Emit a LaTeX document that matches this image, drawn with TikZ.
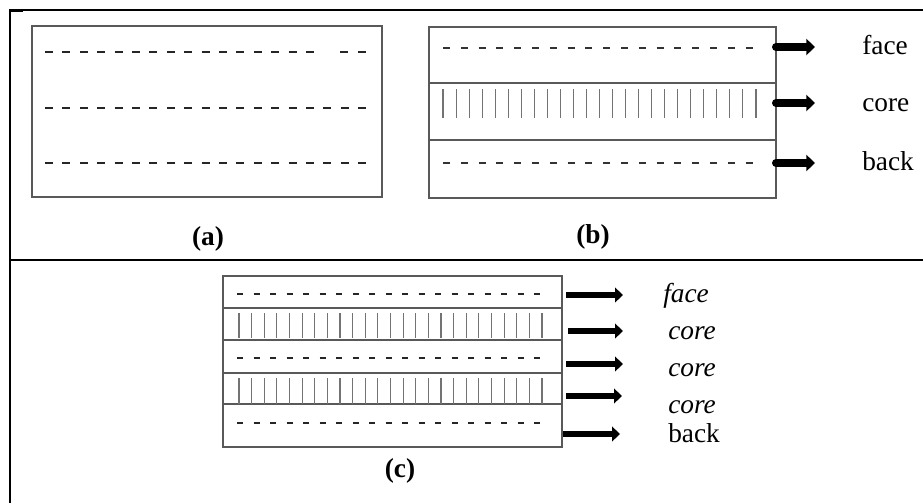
\documentclass[tikz,border=0pt]{standalone}
\usepackage{fontspec}
\setmainfont{Liberation Serif}
\usetikzlibrary{arrows.meta}
\begin{document}
\begin{tikzpicture}[x=0.75pt,y=-0.75pt,
  rule/.style={line width=1.5pt, black},
  layerbox/.style={draw=black!65, line width=1pt},
  dashA/.style={draw=black!85, line width=2pt},
  dashB/.style={draw=black!80, line width=1.2pt},
  dashC/.style={draw=black!85, line width=1.7pt},
  fibre/.style={draw=black!55, line width=0.8pt},
  panellabel/.style={font=\bfseries\fontsize{20.5}{24}\selectfont, inner sep=0pt},
  layerlabel/.style={font=\fontsize{20.5}{24}\selectfont, inner sep=0pt, anchor=base west},
  layerlabelit/.style={layerlabel, font=\itshape\fontsize{20.5}{24}\selectfont},
  bigarrow/.style={line width=6pt, line cap=round, -{Triangle[length=6.5pt,width=12pt]}},
  midarrow/.style={line width=5.2pt, -{Triangle[length=6pt,width=11pt]}}
]
\useasboundingbox (0,0) rectangle (923,503);

% table rules
\draw[rule] (10,9) -- (10,503);
\draw[line width=1pt] (10,10) -- (923,10);
\draw[line width=2.2pt] (10,10.5) -- (23,10.5);
\draw[line width=1.8pt] (391,10) -- (420,10);
\draw[rule] (10,260) -- (923,260);

% ---------- (a) single layer ----------
\draw[layerbox] (32,26) rectangle (382,197);
\foreach \k in {0,...,15} \draw[dashA] ({45+17.4*\k},52) -- ++(8,0);
\draw[dashA] (340,52) -- ++(8,0);
\draw[dashA] (358,52) -- ++(8,0);
\foreach \y in {108,163}
  \foreach \k in {0,...,18} \draw[dashA] ({45+17.4*\k},\y) -- ++(8,0);
\node[panellabel] (la) at (208,239) {(a)};

% ---------- (b) three layers ----------
\draw[layerbox] (429,27) rectangle (776,198);
\draw[layerbox] (429,83) -- (776,83);
\draw[layerbox] (429,140) -- (776,140);
\foreach \y in {48,163}
  \foreach \k in {0,...,17} \draw[dashB] ({443+17.8*\k},\y) -- ++(7,0);
\foreach \k in {0,...,24} \draw[fibre] ({443+13.04*\k},89) -- ++(0,29);
\node[panellabel] (lb) at (593,237) {(b)};

\node[layerlabel] (bface) at (862,55) {face};
\node[layerlabel] (bcore) at (862,111) {core};
\node[layerlabel] (bback) at (862,170) {back};
\coordinate (bf0) at (776,47);  \coordinate (bf1) at (815,47);
\coordinate (bc0) at (776,103); \coordinate (bc1) at (815,103);
\coordinate (bb0) at (776,163); \coordinate (bb1) at (815,163);
\draw[bigarrow] (bf0) -- (bf1);
\draw[bigarrow] (bc0) -- (bc1);
\draw[bigarrow] (bb0) -- (bb1);

% ---------- (c) five layers ----------
\draw[layerbox] (223,276) rectangle (562,447);
\foreach \y in {308,340,373,404} \draw[layerbox] (223,\y) -- (562,\y);
\foreach \y in {294,358,423}
  \foreach \k in {0,...,18} \draw[dashC] ({237+16.5*\k},\y) -- ++(6,0);
\foreach \k in {0,...,24} {
  \draw[fibre] ({239+12.625*\k},313) -- ++(0,25);
  \draw[fibre] ({239+12.625*\k},378) -- ++(0,26);
}
\node[panellabel] (lc) at (400,471) {(c)};

\node[layerlabelit] (cface) at (663,302) {face};
\node[layerlabelit] (ccore1) at (668,339) {core};
\node[layerlabelit] (ccore2) at (668,376) {core};
\node[layerlabelit] (ccore3) at (668,413) {core};
\node[layerlabel] (cback) at (668,442) {back};
\coordinate (c10) at (566,295); \coordinate (c11) at (623,295);
\coordinate (c20) at (568,331); \coordinate (c21) at (623,331);
\coordinate (c30) at (566,364); \coordinate (c31) at (623,364);
\coordinate (c40) at (566,396); \coordinate (c41) at (622,396);
\coordinate (c50) at (563,434); \coordinate (c51) at (620,434);
\draw[midarrow] (c10) -- (c11);
\draw[midarrow] (c20) -- (c21);
\draw[midarrow] (c30) -- (c31);
\draw[midarrow] (c40) -- (c41);
\draw[midarrow] (c50) -- (c51);
\end{tikzpicture}
\end{document}
